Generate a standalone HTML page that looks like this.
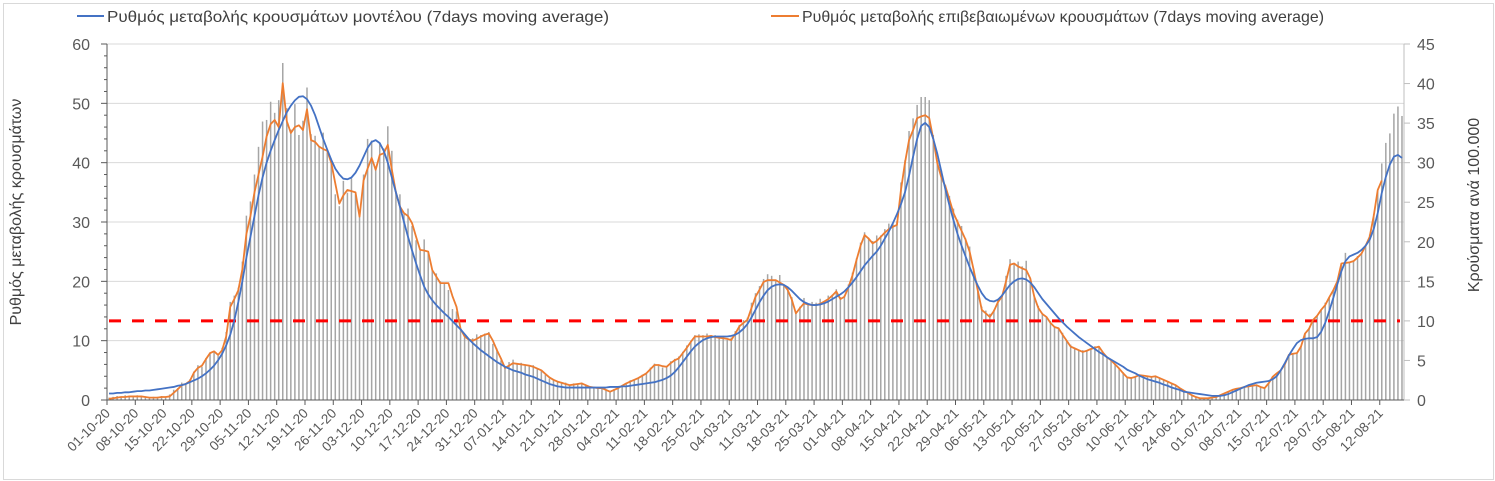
<!DOCTYPE html>
<html><head><meta charset="utf-8">
<style>
html,body{margin:0;padding:0;background:#fff;}
svg{display:block;font-family:"Liberation Sans","DejaVu Sans",sans-serif;}
</style></head>
<body>
<svg id="chart" width="1495" height="481" viewBox="0 0 1495 481" xmlns="http://www.w3.org/2000/svg">
<rect x="3.5" y="3.5" width="1490" height="476" fill="#fff" stroke="#d9d9d9"/>
<g id="grid"></g>
<g id="bars"></g>
<g id="axes"></g>
<g id="lines"></g>
<g>
<line x1="77" y1="16" x2="104" y2="16" stroke="#4472c4" stroke-width="2"/>
<text x="107" y="22" font-size="16" textLength="502" lengthAdjust="spacingAndGlyphs" fill="#404040">Ρυθμός μεταβολής κρουσμάτων μοντέλου (7days moving average)</text>
<line x1="771" y1="16" x2="799" y2="16" stroke="#ed7d31" stroke-width="2"/>
<text x="802" y="22" font-size="16" textLength="522" lengthAdjust="spacingAndGlyphs" fill="#404040">Ρυθμός μεταβολής επιβεβαιωμένων κρουσμάτων (7days moving average)</text>
</g>
<text transform="translate(21,212) rotate(-90)" text-anchor="middle" font-size="16" fill="#404040">Ρυθμός μεταβολής κρουσμάτων</text>
<text transform="translate(1479,205) rotate(-90)" text-anchor="middle" font-size="16" fill="#404040">Κρούσματα ανά 100.000</text>
</svg>
<script>
const blueValues = [
1.1,1.1,1.2,1.2,1.3,1.3,1.4,1.5,1.5,1.6,
1.6,1.7,1.8,1.9,2.0,2.1,2.2,2.4,2.5,2.7,
3.0,3.3,3.6,4.0,4.5,5.1,5.8,6.7,7.8,9.2,
11,13.4,16.5,20,24,27.5,31,34.5,37.5,40,
42,43.8,45.5,47,48.5,49.6,50.5,51.1,51.2,50.7,
49.6,48,46,44,42.2,40.5,39,38,37.3,37.2,
37.5,38.3,39.5,41,42.5,43.5,43.8,43.3,42,40,
37.5,35,32.6,30,27.5,25.2,23,21,19.1,17.8,
16.8,16,15.3,14.6,14,13.3,12.6,11.9,11.1,10.3,
9.6,9,8.4,7.9,7.4,6.9,6.4,6,5.6,5.3,
5.0,4.8,4.6,4.3,4.1,3.9,3.6,3.3,3.0,2.7,
2.5,2.3,2.2,2.1,2.1,2.1,2.1,2.1,2.1,2.1,
2.1,2.1,2.1,2.1,2.2,2.2,2.2,2.3,2.3,2.4,
2.5,2.6,2.7,2.8,2.9,3.0,3.2,3.4,3.7,4.1,
4.7,5.5,6.4,7.3,8.2,9.0,9.6,10.1,10.4,10.6,
10.7,10.7,10.7,10.7,10.8,11.0,11.4,12.0,12.8,13.9,
15.2,16.5,17.6,18.5,19.1,19.4,19.5,19.4,19.0,18.4,
17.7,17.0,16.5,16.2,16.0,16.0,16.1,16.3,16.6,17.0,
17.4,17.8,18.3,19.0,19.8,20.7,21.7,22.7,23.5,24.3,
25.0,26,27.2,28.4,29.8,31.3,33,35,37.8,41,
44,46.2,46.7,46,44,41.5,38.5,35.5,32.8,30.3,
28,26,24.2,22.4,20.8,19.3,18,17.1,16.7,16.6,
16.9,17.6,18.5,19.4,20,20.4,20.5,20.3,19.8,19,
18,17,16.2,15.4,14.6,13.8,13.1,12.4,11.8,11.2,
10.6,10.1,9.6,9.1,8.6,8.1,7.7,7.2,6.8,6.4,
6.0,5.6,5.1,4.8,4.5,4.1,3.8,3.5,3.3,3.1,
2.9,2.6,2.4,2.1,1.9,1.7,1.4,1.3,1.2,1.1,
1.0,0.9,0.8,0.7,0.7,0.7,0.8,1.0,1.3,1.6,
1.9,2.2,2.5,2.7,2.9,3.0,3.1,3.2,3.5,4.0,
5.0,6.2,7.5,8.6,9.6,10.1,10.3,10.4,10.4,10.6,
11.5,13,15,17.2,19.5,21.7,23.4,24.2,24.5,24.8,
25.3,26,27,28.8,31.5,34.9,37.6,39.7,41,41.3,
40.8];
const orangeValues = [
0.2,0.3,0.4,0.5,0.5,0.6,0.6,0.6,0.6,0.5,
0.4,0.4,0.4,0.5,0.5,0.6,1.2,1.8,2.5,2.7,
3.2,4.6,5.4,5.8,6.9,7.9,8.2,7.6,8.4,10.7,
15.7,17,18.5,22,28,31,35,38,41,44.4,
46.5,47.2,46,53.4,47,45,46,46.3,45.5,49,
43.8,43.5,42.7,42.3,42,40,36.5,33.1,34.5,35.4,
35.2,35,30.9,37,39,40.8,38.8,41.3,41.6,43,
38.8,35,32.6,31.5,31,29.8,27.5,25.3,25.2,25,
21.9,20.8,19.7,19.7,19.7,17.5,15.7,12,10.7,10.2,
10,10.3,10.7,11,11.2,10,8.4,7,5.4,5.8,
6.2,6.1,6,5.9,5.8,5.6,5.3,5,4.4,3.8,
3.4,3.1,2.9,2.7,2.5,2.6,2.7,2.8,2.5,2.2,
2.1,2.0,2.0,1.7,1.4,1.7,2.0,2.4,2.8,3.1,
3.4,3.7,4.1,4.5,5.2,5.9,5.9,5.7,5.6,6.2,
6.7,7,7.9,8.8,9.8,10.7,10.7,10.7,10.7,10.8,
10.6,10.5,10.4,10.3,10.1,11.2,12.4,13,13.5,15.5,
17.4,18.6,19.9,20.2,20.2,20.2,19.8,19.4,18.5,16.9,
14.6,15.5,16.3,16.1,16,16,16.2,16.6,17,17.6,
18.3,17,17.4,19,21,23.6,26,27.8,27.2,26.4,
26.8,27.5,28.2,28.8,29.2,29.5,35.4,40,43.8,45.5,
47.5,47.8,48,47.5,44,39.9,37.5,36,33.8,31.5,
30,28.5,27,25,21.9,18.5,15.2,14.6,14,15,
16.5,17.4,20,22.8,23,22.5,22.2,21.9,20.5,17.4,
15.5,14.5,14,13,12.3,12.1,11,10,9,8.7,
8.4,8.1,8.3,8.6,8.8,9,8,7.2,6.7,6.0,
5.3,4.5,3.8,3.7,3.9,4.2,4.1,4.0,3.9,4.0,
3.7,3.4,3.1,2.8,2.5,2,1.6,1.2,0.8,0.5,
0.3,0.3,0.3,0.4,0.5,0.8,1.1,1.4,1.7,1.9,
2.0,2.2,2.3,2.4,2.5,2.2,2.0,2.8,3.9,4.5,
5,6,7.6,7.8,7.9,9,11.2,12,13.5,14.2,
15.2,16,17.3,18.5,20,23,23.1,23.2,23.4,24,
24.7,26,27.5,31,35.4,37];
const barValues = [
0.3,0.4,0.5,0.4,0.6,0.5,0.4,0.6,0.5,0.4,
0.3,0.4,0.4,0.5,0.4,0.7,1.3,1.5,2.2,2.1,
2.6,3.6,4.4,4.2,5.3,6.0,6.1,5.6,6.6,8.6,
12.4,13.2,14.2,17.5,23.3,25.1,28.5,32,35.2,35.4,
37.7,36.3,37.9,42.6,36.9,34.2,37.4,33.5,35.3,39.5,
33.6,33.4,32.1,33.8,31.3,30.5,26,24.5,27.7,26.2,
28,26,23.2,28.5,33,32.8,29.4,32.4,31.8,34.6,
31.5,26.4,26,23.5,24.2,22,20.2,18.9,20.3,18.8,
16.5,16,15,14.8,13.9,11.5,11.2,9,7.9,7.7,
7.8,8.3,8.2,8.4,8.6,7.1,6.5,5,4.2,4.8,
5.1,4.5,4.7,4.5,4.3,4.4,4,3.7,3.2,2.7,
2.5,2.4,2.1,2.2,1.8,2.1,2,2.2,1.8,1.7,
1.6,1.5,1.6,1.2,1.1,1.4,1.5,1.9,2.1,2.5,
2.6,2.8,3.2,3.3,4.1,4.6,4.3,4.1,4.3,4.9,
5.2,5.5,6.1,6.9,7.5,8.2,8.3,8.2,8.4,8.1,
8.2,8,8.1,7.6,7.9,8.7,9.5,10.1,10.4,12.3,
13.5,14.4,15.3,15.9,15.7,15.1,15.8,14.6,14.2,13,
11.2,11.8,12.9,12.2,12.4,12.3,12.8,12.4,13.2,13.3,
14,13,13.2,14.6,16.1,17.9,19.9,21.2,20.5,20.1,
20.8,20.8,21.6,22.3,22.3,22.6,27.5,30.3,34,35.6,
37.3,38.3,38.3,37.9,33.5,30.3,29,27.2,25.8,24.2,
22.8,22,20.4,19.4,16.6,14,11.8,11.3,10.9,11.4,
12.8,13.3,15.7,17.8,17.3,17.5,16.9,17.6,15.4,13.2,
11.9,10.9,10.5,10,9.3,9.1,8.5,7.5,7,6.5,
6.3,6.3,6.2,6.5,6.8,6.7,6,5.4,5.1,4.5,
4,3.5,2.8,2.9,3,3.2,3.1,3,3,3.1,
2.8,2.6,2.4,2.1,1.9,1.5,1.2,0.9,0.6,0.4,
0.3,0.2,0.2,0.3,0.4,0.6,0.8,1.1,1.3,1.5,
1.5,1.7,1.7,1.8,1.9,1.7,1.6,2.2,3,3.4,
3.8,4.6,5.7,5.9,6,6.8,8.4,9.1,10.1,10.7,
11.4,12.3,13,13.9,15,17.3,18.6,17.5,17.6,18.2,
18.5,19.6,20.9,23.5,26.5,29.9,32.5,33.7,36.2,37.1,
35.9];
const thresholdRight = [10];
const leftTicks = [0,10,20,30,40,50,60];
const rightTicks = [0,5,10,15,20,25,30,35,40,45];
const startDate = [2020,9,1];
const dayCount = [321];

const NS="http://www.w3.org/2000/svg";
const X0=107, X1=1404, Y0=400, Y1=44;
const nDays=dayCount[0];
const dx=(X1-X0)/nDays;
function xPos(i){return X0+(i+0.5)*dx;}
function xEdge(i){return X0+i*dx;}
function yLeft(v){return Y0-(v/60)*(Y0-Y1);}
function yRight(v){return Y0-(v/45)*(Y0-Y1);}
function mk(tag,attrs,parent){const e=document.createElementNS(NS,tag);for(const k in attrs)e.setAttribute(k,attrs[k]);parent.appendChild(e);return e;}

const grid=document.getElementById('grid');
leftTicks.forEach(v=>{ if(v===0)return;
  const l=mk('line',{x1:X0,x2:X1,y1:yLeft(v),y2:yLeft(v),stroke:'#d9d9d9','stroke-width':1},grid);
  
  
});

const bars=document.getElementById('bars');
barValues.forEach((v,i)=>{
  const r=mk('rect',{x:(xPos(i)-0.75).toFixed(2),y:yRight(v).toFixed(2),width:1.5,height:(Y0-yRight(v)).toFixed(2),fill:'#a5a5a5'},bars);
  
  
});

const axes=document.getElementById('axes');
const la=mk('line',{x1:X0,x2:X0,y1:Y1,y2:Y0,stroke:'#595959','stroke-width':1},axes);


const ra=mk('line',{x1:X1,x2:X1,y1:Y1,y2:Y0,stroke:'#bfbfbf','stroke-width':1},axes);


const xa=mk('line',{x1:X0,x2:X1,y1:Y0,y2:Y0,stroke:'#595959','stroke-width':1},axes);


for(let v=0;v<=60;v+=2){
  const major=v%10===0;
  const t=mk('line',{x1:major?X0-6:X0-3,x2:X0,y1:yLeft(v),y2:yLeft(v),stroke:'#595959','stroke-width':1},axes);
  
  
}
leftTicks.forEach(v=>{
  const t=mk('text',{x:X0-17,y:yLeft(v)+6,'text-anchor':'end','font-size':16,fill:'#595959'},axes);
  t.textContent=v;
  
  
});
rightTicks.forEach(v=>{
  const tk=mk('line',{x1:X1,x2:X1+6,y1:yRight(v),y2:yRight(v),stroke:'#bfbfbf','stroke-width':1},axes);
  
  
  const t=mk('text',{x:X1+13,y:yRight(v)+6,'text-anchor':'start','font-size':16,fill:'#595959'},axes);
  t.textContent=v;
  
  
});
function pad(n){return (n<10?'0':'')+n;}
for(let d=0; d<nDays; d+=7){
  const x=xEdge(d);
  const tk=mk('line',{x1:x,x2:x,y1:Y0,y2:Y0+5,stroke:'#595959','stroke-width':1},axes);
  
  
  const dt=new Date(startDate[0],startDate[1],startDate[2]+d);
  const lbl=pad(dt.getDate())+'-'+pad(dt.getMonth()+1)+'-'+String(dt.getFullYear()).slice(2);
  const t=mk('text',{x:0,y:0,'text-anchor':'end','font-size':13.5,fill:'#595959',transform:'translate('+(x+4)+','+(Y0+14)+') rotate(-45)'},axes);
  t.textContent=lbl;
  
  
}

const lines=document.getElementById('lines');
const th=mk('line',{x1:X0+2,x2:X1-4,y1:yRight(thresholdRight[0]),y2:yRight(thresholdRight[0]),stroke:'#ff0000','stroke-width':3,'stroke-dasharray':'12 11'},lines);


function path(vals){return vals.map((v,i)=>(i?'L':'M')+xPos(i).toFixed(2)+','+yLeft(v).toFixed(2)).join('');}
const po=mk('path',{d:path(orangeValues),fill:'none',stroke:'#ed7d31','stroke-width':1.8,'stroke-linejoin':'round'},lines);


const pb=mk('path',{d:path(blueValues),fill:'none',stroke:'#4472c4','stroke-width':1.8,'stroke-linejoin':'round'},lines);


</script>
</body></html>
